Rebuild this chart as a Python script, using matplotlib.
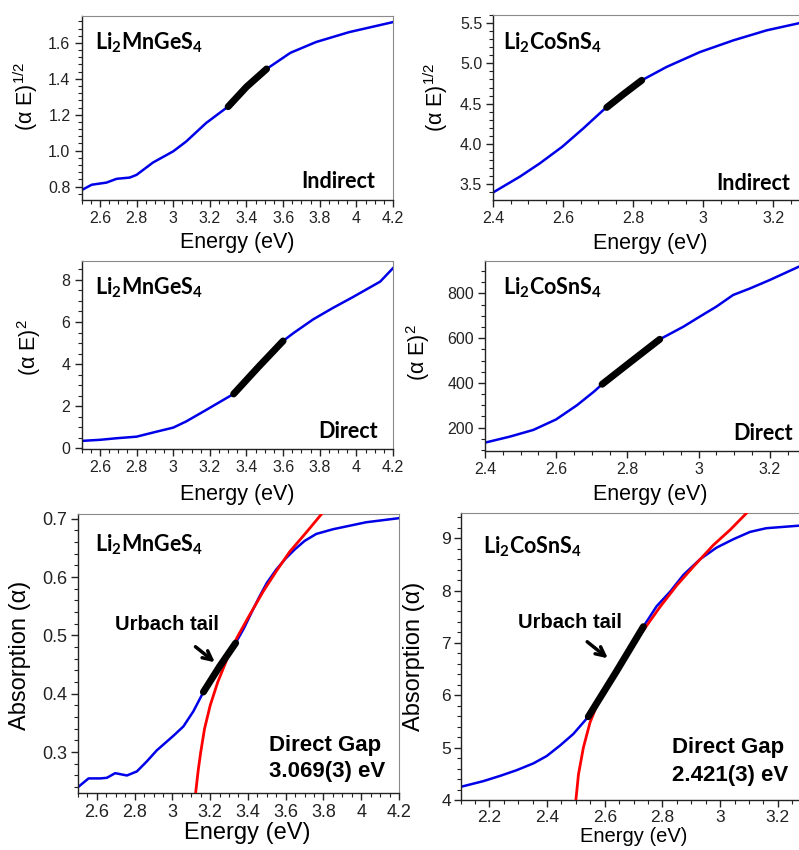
import matplotlib
matplotlib.use('Agg')
import matplotlib.pyplot as plt
from matplotlib.ticker import MultipleLocator, FormatStrFormatter

plt.rcParams['font.family'] = ['Liberation Sans', 'DejaVu Sans']
plt.rcParams['mathtext.fontset'] = 'custom'
plt.rcParams['mathtext.rm'] = 'Liberation Sans'
plt.rcParams['mathtext.it'] = 'Liberation Sans:italic'
plt.rcParams['mathtext.bf'] = 'Lato:bold'

# ---------------- data ----------------
# Li2MnGeS4, indirect: (alpha E)^(1/2)
mn_ind_E = [2.50, 2.555, 2.636, 2.691, 2.763, 2.80, 2.89, 3.00, 3.07, 3.18, 3.29, 3.30, 3.40, 3.51,
            3.64, 3.78, 3.96, 4.20]
mn_ind_y = [0.78, 0.81, 0.822, 0.843, 0.85, 0.865, 0.934, 0.996, 1.05, 1.154, 1.238, 1.245, 1.355, 1.455,
            1.545, 1.605, 1.66, 1.716]
mn_ind_fit_E = [3.30, 3.40, 3.51]
mn_ind_fit_y = [1.245, 1.355, 1.455]

# Li2CoSnS4, indirect
co_ind_E = [2.40, 2.476, 2.533, 2.597, 2.657, 2.714, 2.724, 2.774, 2.824, 2.895, 2.99, 3.086, 3.181, 3.275]
co_ind_y = [3.40, 3.595, 3.76, 3.966, 4.193, 4.42, 4.453, 4.625, 4.79, 4.956, 5.14, 5.286, 5.41, 5.50]
co_ind_fit_E = [2.724, 2.774, 2.824]
co_ind_fit_y = [4.453, 4.625, 4.79]

# Li2MnGeS4, direct: (alpha E)^2
mn_dir_E = [2.50, 2.60, 2.69, 2.80, 2.91, 3.00, 3.07, 3.18, 3.29, 3.33, 3.465, 3.60, 3.656, 3.765,
            3.87, 3.98, 4.13, 4.20]
mn_dir_y = [0.35, 0.40, 0.475, 0.55, 0.79, 0.98, 1.27, 1.82, 2.38, 2.58, 3.86, 5.10, 5.47, 6.13,
            6.66, 7.18, 7.92, 8.56]
mn_dir_fit_E = [3.33, 3.465, 3.60]
mn_dir_fit_y = [2.58, 3.86, 5.10]

# Li2CoSnS4, direct
co_dir_E = [2.40, 2.47, 2.536, 2.60, 2.659, 2.706, 2.729, 2.81, 2.891, 2.957, 3.003, 3.05, 3.097,
            3.144, 3.20, 3.285]
co_dir_y = [133, 160, 190, 237, 301, 361, 394, 495, 595, 651, 696, 741, 793, 822, 860, 922]
co_dir_fit_E = [2.729, 2.81, 2.891]
co_dir_fit_y = [394, 495, 595]

# Li2MnGeS4 absorption
mn_abs_E = [2.50, 2.556, 2.618, 2.653, 2.697, 2.759, 2.812, 2.864, 2.917, 3.005, 3.058, 3.111, 3.164,
            3.25, 3.335, 3.38, 3.42, 3.46, 3.50, 3.55, 3.60, 3.65, 3.70, 3.762, 3.85, 3.938, 4.026, 4.20]
mn_abs_y = [0.240, 0.255, 0.255, 0.256, 0.264, 0.260, 0.267, 0.284, 0.303, 0.328, 0.344, 0.370, 0.403,
            0.447, 0.487, 0.513, 0.540, 0.566, 0.590, 0.613, 0.632, 0.648, 0.662, 0.674, 0.682, 0.688,
            0.694, 0.701]
mn_abs_fit_E = [3.164, 3.25, 3.335]
mn_abs_fit_y = [0.403, 0.447, 0.487]
mn_gap_E = [3.123, 3.137, 3.150, 3.17, 3.20, 3.24, 3.29, 3.34, 3.40, 3.48, 3.55, 3.62, 3.71, 3.80]
mn_gap_y = [0.23, 0.27, 0.30, 0.34, 0.38, 0.42, 0.46, 0.495, 0.53, 0.575, 0.61, 0.643, 0.677, 0.712]

# Li2CoSnS4 absorption
co_abs_E = [2.10, 2.179, 2.237, 2.295, 2.353, 2.399, 2.445, 2.491, 2.543, 2.64, 2.734, 2.78, 2.827,
            2.873, 2.931, 2.988, 3.046, 3.104, 3.16, 3.277]
co_abs_y = [4.25, 4.36, 4.46, 4.57, 4.70, 4.84, 5.04, 5.26, 5.59, 6.45, 7.31, 7.70, 7.98,
            8.30, 8.60, 8.82, 8.98, 9.12, 9.19, 9.24]
co_abs_fit_E = [2.543, 2.64, 2.734]
co_abs_fit_y = [5.59, 6.45, 7.31]
co_gap_E = [2.50, 2.509, 2.526, 2.549, 2.584, 2.63, 2.676, 2.734, 2.792, 2.85, 2.908, 2.977, 3.035, 3.092]
co_gap_y = [4.00, 4.49, 5.00, 5.48, 5.96, 6.41, 6.79, 7.24, 7.69, 8.10, 8.46, 8.87, 9.16, 9.48]

# ---------------- figure ----------------
W, H = 799, 850
fig = plt.figure(figsize=(W / 100, H / 100), dpi=100)


def add_axes(l, r, t, b):
    return fig.add_axes([l / W, 1 - b / H, (r - l) / W, (b - t) / H])


BLUE = '#0000e8'


def style(ax, xlim, ylim, xmaj, xmin, ymaj, ymin, yfmt, tfs, pad=3):
    ax.set_xlim(*xlim)
    ax.set_ylim(*ylim)
    ax.xaxis.set_major_locator(MultipleLocator(xmaj))
    ax.xaxis.set_minor_locator(MultipleLocator(xmin))
    ax.yaxis.set_major_locator(MultipleLocator(ymaj))
    ax.yaxis.set_minor_locator(MultipleLocator(ymin))
    ax.xaxis.set_major_formatter(FormatStrFormatter('%g'))
    ax.yaxis.set_major_formatter(FormatStrFormatter(yfmt))
    for s in ('left', 'bottom'):
        ax.spines[s].set_color('#222222')
        ax.spines[s].set_linewidth(1.0)
    for s in ('top', 'right'):
        ax.spines[s].set_color('#8a8a8a')
        ax.spines[s].set_linewidth(0.8)
    ax.tick_params(which='major', direction='out', length=5, width=1, labelsize=tfs,
                   pad=pad, color='#222222', labelcolor='#222222', top=False, right=False)
    ax.tick_params(which='minor', direction='out', length=3, width=0.8,
                   color='#222222', top=False, right=False)


def draw(ax, E, y, fE, fy, gE=None, gy=None):
    ax.plot(E, y, color=BLUE, lw=1.8, zorder=2)
    if gE is not None:
        ax.plot(gE, gy, color='#ff0000', lw=2.0, zorder=3)
    ax.plot(fE, fy, color='black', lw=5, solid_capstyle='round', zorder=4)


def ftext(x, y, s, **kw):
    fig.text(x / W, 1 - y / H, s, **kw)


compound_mn = r'Li$_\mathbf{2}$MnGeS$_\mathbf{4}$'
compound_co = r'Li$_\mathbf{2}$CoSnS$_\mathbf{4}$'
lbl_kw = dict(family=['Lato', 'DejaVu Sans'], weight='bold', fontsize=15.5, va='center')
ind_label = '(α E)$^{1/2}$'
dir_label = '(α E)$^{2}$'
abs_label = 'Absorption (α)'

# Panel 1
ax1 = add_axes(81.6, 393, 16, 200)
draw(ax1, mn_ind_E, mn_ind_y, mn_ind_fit_E, mn_ind_fit_y)
style(ax1, (2.5, 4.2), (0.725, 1.75), 0.2, 0.05, 0.2, 0.04, '%.1f', 11.5)
ax1.set_xlabel('Energy (eV)', fontsize=15.5)
ax1.xaxis.set_label_coords(0.499, -0.172)
ax1.set_ylabel(ind_label, fontsize=15.5)
ax1.yaxis.set_label_coords(-0.134, 0.566)

# Panel 2
ax2 = add_axes(493.3, 800, 15, 200)
draw(ax2, co_ind_E, co_ind_y, co_ind_fit_E, co_ind_fit_y)
style(ax2, (2.4, 3.276), (3.305, 5.6), 0.2, 0.05, 0.5, 0.1, '%.1f', 11.5)
ax2.set_xlabel('Energy (eV)', fontsize=15.5)
ax2.xaxis.set_label_coords(0.511, -0.178)
ax2.set_ylabel(ind_label, fontsize=15.5)
ax2.yaxis.set_label_coords(-0.141, 0.554)

# Panel 3
ax3 = add_axes(81.6, 393, 261, 449.3)
draw(ax3, mn_dir_E, mn_dir_y, mn_dir_fit_E, mn_dir_fit_y)
style(ax3, (2.5, 4.2), (-0.05, 8.9), 0.2, 0.05, 2, 0.5, '%g', 11.5)
ax3.set_xlabel('Energy (eV)', fontsize=15.5)
ax3.xaxis.set_label_coords(0.499, -0.184)
ax3.set_ylabel(dir_label, fontsize=15.5)
ax3.yaxis.set_label_coords(-0.124, 0.538)

# Panel 4
ax4 = add_axes(485, 800, 261, 450.7)
draw(ax4, co_dir_E, co_dir_y, co_dir_fit_E, co_dir_fit_y)
style(ax4, (2.4, 3.285), (97, 945), 0.2, 0.05, 200, 50, '%g', 11.5)
ax4.set_xlabel('Energy (eV)', fontsize=15.5)
ax4.xaxis.set_label_coords(0.524, -0.176)
ax4.set_ylabel(dir_label, fontsize=15.5)
ax4.yaxis.set_label_coords(-0.168, 0.515)

# Panel 5
ax5 = add_axes(78, 399, 513.5, 792.7)
draw(ax5, mn_abs_E, mn_abs_y, mn_abs_fit_E, mn_abs_fit_y, mn_gap_E, mn_gap_y)
style(ax5, (2.5, 4.2), (0.2305, 0.709), 0.2, 0.05, 0.1, 0.02, '%.1f', 13)
ax5.set_xlabel('Energy (eV)', fontsize=17)
ax5.xaxis.set_label_coords(0.528, -0.105)
ax5.set_ylabel(abs_label, fontsize=17)
ax5.yaxis.set_label_coords(-0.146, 0.493)

# Panel 6
ax6 = add_axes(460.5, 800, 512.5, 800)
draw(ax6, co_abs_E, co_abs_y, co_abs_fit_E, co_abs_fit_y, co_gap_E, co_gap_y)
style(ax6, (2.1, 3.277), (4.0, 9.49), 0.2, 0.05, 1, 0.2, '%g', 12.5, pad=2)
ax6.set_xlabel('Energy (eV)', fontsize=14.5)
ax6.xaxis.set_label_coords(0.511, -0.094)
ax6.set_ylabel(abs_label, fontsize=17)
ax6.yaxis.set_label_coords(-0.105, 0.50)

# ---------------- annotations ----------------
ftext(95, 43, compound_mn, **lbl_kw)
ftext(375, 182, 'Indirect', ha='right', **lbl_kw)
ftext(503, 43, compound_co, **lbl_kw)
ftext(790, 183, 'Indirect', ha='right', **lbl_kw)
ftext(95, 288, compound_mn, **lbl_kw)
ftext(378, 432, 'Direct', ha='right', **lbl_kw)
ftext(503, 288, compound_co, **lbl_kw)
ftext(793, 433, 'Direct', ha='right', **lbl_kw)
ftext(95, 545, compound_mn, **lbl_kw)
ftext(483, 547, compound_co, **lbl_kw)

bkw = dict(weight='bold', fontsize=14.5, va='center')
ftext(115, 624, 'Urbach tail', **bkw)
ftext(518, 623, 'Urbach tail', **bkw)
gkw = dict(weight='bold', fontsize=16, va='center')
ftext(269, 745, 'Direct Gap', **gkw)
ftext(269, 772, '3.069(3) eV', **gkw)
ftext(672, 748, 'Direct Gap', **gkw)
ftext(672, 775, '2.421(3) eV', **gkw)

akw = dict(arrowstyle='->', lw=2.5, color='black', mutation_scale=16)
fig.add_artist(matplotlib.patches.FancyArrowPatch((193.3 / W, 1 - 645 / H), (217 / W, 1 - 664 / H),
               transform=fig.transFigure, **akw))
fig.add_artist(matplotlib.patches.FancyArrowPatch((585 / W, 1 - 640 / H), (610 / W, 1 - 660 / H),
               transform=fig.transFigure, **akw))

fig.savefig('out.png', dpi=100)
